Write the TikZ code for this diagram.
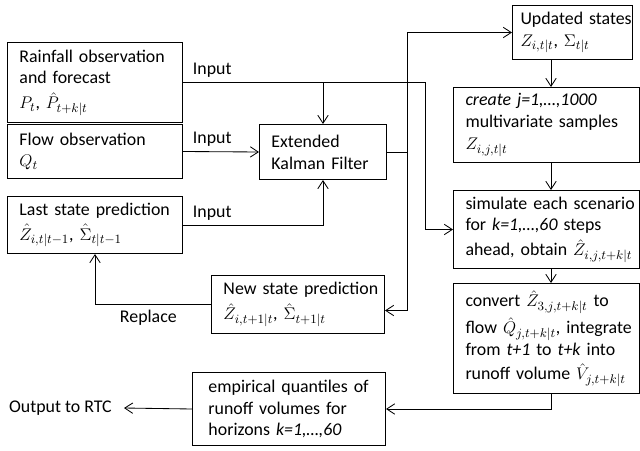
\documentclass[tikz,border=0pt]{standalone}
\usepackage{fontspec}
\setmainfont{Carlito}
\usepackage{tikz}
\usetikzlibrary{arrows.meta, positioning, calc}

\begin{document}
\begin{tikzpicture}[
    font=\fontsize{12.7}{15.5}\selectfont,
    box/.style={rectangle, draw=black, line width=0.7pt, anchor=north west, align=left, inner xsep=0pt, inner ysep=0pt, execute at begin node={\leftskip=0.3cm}},
    arrow/.style={-{Straight Barb[length=0.2cm, width=0.26cm]}, line width=0.6pt},
    lbl/.style={anchor=south west, xshift=0.12cm}
]
\useasboundingbox (0,0) rectangle (16,-11.25);

% ==========================================
% LEFT: INPUTS
% ==========================================
\node[box, text width=4.375cm, minimum height=2cm] (rain) at (0.175,-1.05) {Rainfall observation\\and forecast\\[2pt]$P_t$, $\hat{P}_{t+k|t}$};
\node[box, text width=4.375cm, minimum height=1.35cm] (flow) at (0.175,-3.1) {Flow observation\\$Q_t$};
\node[box, text width=4.375cm, minimum height=1.425cm] (last) at (0.175,-4.9) {Last state prediction\\[2pt]$\hat{Z}_{i,t|t-1}$, $\hat{\Sigma}_{t|t-1}$};

% ==========================================
% MIDDLE: FILTER
% ==========================================
\node[box, text width=3.175cm, minimum height=1.375cm] (ekf) at (6.475,-3.1) {Extended\\Kalman Filter};
\node[box, text width=4.325cm, minimum height=1.45cm] (newst) at (5.275,-6.875) {New state prediction\\[2pt]$\hat{Z}_{i,t+1|t}$, $\hat{\Sigma}_{t+1|t}$};

% ==========================================
% RIGHT: SCENARIOS
% ==========================================
\node[box, text width=3cm, minimum height=1.35cm, execute at begin node={\leftskip=0.2cm}] (upd) at (12.8,-0.125) {Updated states\\$Z_{i,t|t}$, $\Sigma_{t|t}$};
\node[box, text width=4.65cm, minimum height=1.875cm] (create) at (11.325,-2.175) {\textit{create j=1,\ldots,1000}\\multivariate samples\\$Z_{i,j,t|t}$};
\node[box, text width=4.65cm, minimum height=1.95cm] (sim) at (11.325,-4.75) {simulate each scenario\\for \textit{k=1,\ldots,60} steps\\[2pt]ahead, obtain $\hat{Z}_{i,j,t+k|t}$};
\node[box, text width=4.65cm, minimum height=2.75cm] (conv) at (11.325,-7.075) {convert $\hat{Z}_{3,j,t+k|t}$ to\\[2pt]flow $\hat{Q}_{j,t+k|t}$, integrate\\from \textit{t+1} to \textit{t+k} into\\[2pt]runoff volume $\hat{V}_{j,t+k|t}$};

% ==========================================
% BOTTOM: OUTPUT
% ==========================================
\node[box, text width=4.825cm, minimum height=1.825cm, execute at begin node={\leftskip=0.4cm}] (emp) at (4.8,-9.3) {empirical quantiles of\\runoff volumes for\\horizons \textit{k=1,\ldots,60}};
\node[inner xsep=0.3cm, anchor=east] (out) at (3.1,-10.2) {Output to RTC};

% bus lines
\coordinate (rbus) at (10.625,0);
\coordinate (ebus) at (10.175,0);
\coordinate (col) at (13.775,0);

% inputs to the filter
\draw[arrow] (rain.east) -| node[lbl, pos=0] {Input} (ekf.north);
\draw[arrow] (rain.east) -- (rain.east -| rbus) |- (sim.west);
\draw[arrow] (flow.east) -- node[lbl, pos=0] {Input} (ekf.west);
\draw[arrow] (last.east) -| node[lbl, pos=0] {Input} (ekf.south);

% filter outputs
\draw[arrow] (ekf.east) -- (ekf.east -| ebus) |- (upd.west);
\draw[arrow] (ekf.east -| ebus) |- ([yshift=-0.15cm]newst.east);
\draw[arrow] (newst.west) -| node[pos=0.27, below] {Replace} (last.south);

\foreach \i/\j in {upd/create,create/sim,sim/conv} {
    \draw[arrow] (\i.south -| col) -- (\j.north -| col);
}
\draw[arrow] (conv.south -| col) |- (emp.east);
\draw[arrow] (emp.west) -- (out.east);

\end{tikzpicture}
\end{document}
